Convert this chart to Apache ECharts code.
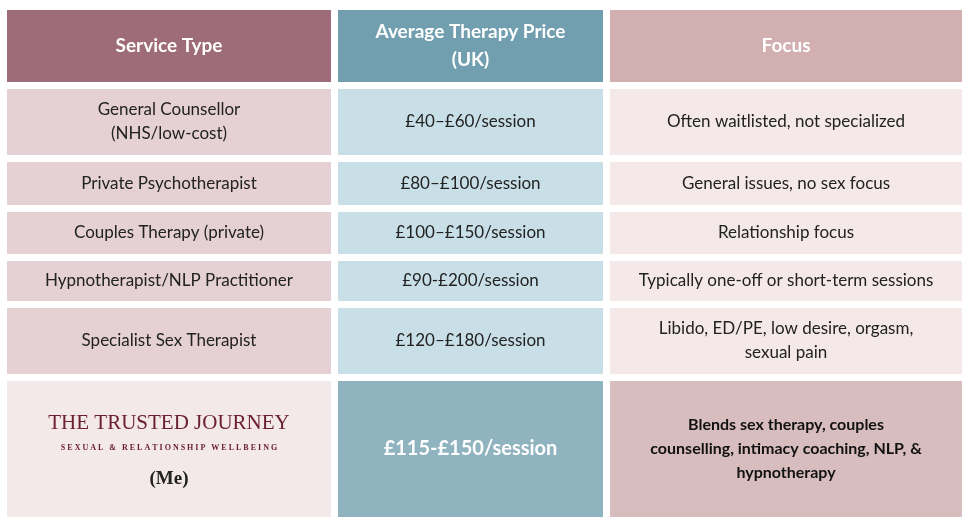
<!DOCTYPE html>
<html><head><meta charset="utf-8">
<script src="https://cdn.jsdelivr.net/npm/echarts@6/dist/echarts.min.js"></script>
<style>html,body{margin:0;padding:0;background:#fff}#c{width:963px;height:524px}</style>
</head><body><div id="c"></div>
<script>
const headers = ["Service Type", "Average Therapy Price\n(UK)", "Focus"];
const serviceTypes = ["General Counsellor\n(NHS/low-cost)", "Private Psychotherapist", "Couples Therapy (private)", "Hypnotherapist/NLP Practitioner", "Specialist Sex Therapist"];
const prices = ["£40–£60/session", "£80–£100/session", "£100–£150/session", "£90-£200/session", "£120–£180/session"];
const focuses = ["Often waitlisted, not specialized", "General issues, no sex focus", "Relationship focus", "Typically one-off or short-term sessions", "Libido, ED/PE, low desire, orgasm,\nsexual pain"];
const meBrand = ["THE TRUSTED JOURNEY", "SEXUAL & RELATIONSHIP WELLBEING", "(Me)"];
const mePrice = "£115-£150/session";
const meFocus = "Blends sex therapy, couples\ncounselling, intimacy coaching, NLP, &\nhypnotherapy";

const colX = [[7,331],[338,603],[610,962]];
const rowY = [[10,82],[89,155],[162,205],[212,254],[261,301],[308,374],[381,517]];
const headFill = ['#9e6b78','#719fb0','#d2b0b2'];
const bodyFill = ['#e5d1d3','#c9dfe7','#f4e8e8'];
const lastFill = ['#f4e9e9','#8fb3bf','#d8bdbf'];
const font = 'Lato, "Open Sans", sans-serif';
const els = [];
function cell(c, r, fill, text, style) {
  const [x0,x1] = colX[c], [y0,y1] = rowY[r];
  els.push({type:'rect', shape:{x:x0,y:y0,width:x1-x0,height:y1-y0}, style:{fill}});
  if (text != null) els.push({type:'text', x:(x0+x1)/2, y:(y0+y1)/2,
    style:Object.assign({text, align:'center', verticalAlign:'middle', fontFamily:font, fontSize:17, fill:'#222', lineHeight:24}, style||{})});
}
headers.forEach((h,i)=>cell(i,0,headFill[i],h,{fill:'#fff',fontWeight:'bold',fontSize:19,lineHeight:28}));
serviceTypes.forEach((s,i)=>{
  cell(0,i+1,bodyFill[0],s);
  cell(1,i+1,bodyFill[1],prices[i]);
  cell(2,i+1,bodyFill[2],focuses[i]);
});
cell(0,6,lastFill[0],null);
const cx = (colX[0][0]+colX[0][1])/2;
els.push({type:'text',x:cx,y:423,style:{text:meBrand[0],align:'center',verticalAlign:'middle',fontFamily:'"Liberation Serif", serif',fontSize:21,fill:'#6b2030'}});
els.push({type:'text',x:cx,y:448,style:{text:meBrand[1].split('').join(' '),align:'center',verticalAlign:'middle',fontFamily:'"Liberation Serif", serif',fontSize:8,fontWeight:'bold',fill:'#6b2030'}});
els.push({type:'text',x:cx,y:479,style:{text:meBrand[2],align:'center',verticalAlign:'middle',fontFamily:'"Liberation Serif", serif',fontSize:19,fontWeight:'bold',fill:'#222'}});
cell(1,6,lastFill[1],mePrice,{fill:'#fff',fontWeight:'bold',fontSize:20});
cell(2,6,lastFill[2],meFocus,{fontWeight:'bold',fontSize:16,lineHeight:24,fill:'#111'});
const chart = echarts.init(document.getElementById('c'));
chart.setOption({animation:false, graphic:{elements:els}});
</script></body></html>
